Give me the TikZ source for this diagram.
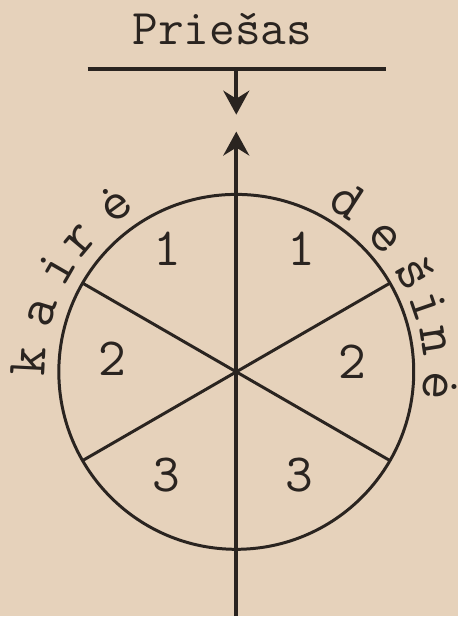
\documentclass[tikz,border=0pt]{standalone}
\usepackage{fontspec}
\usepackage{tikz}
\usetikzlibrary{arrows.meta,positioning}
\definecolor{paper}{RGB}{230,210,187}
\definecolor{ink}{RGB}{42,36,32}

\begin{document}
\begin{tikzpicture}[
  x=0.5pt, y=0.5pt,
  line/.style={draw=ink, line width=1.5pt},
  heavy/.style={draw=ink, line width=1.9pt},
  lbl/.style={font=\ttfamily\fontsize{25}{28}\selectfont, text=ink, inner sep=0pt},
  num/.style={lbl, font=\ttfamily\fontsize{27}{30}\selectfont},
  side/.style={lbl, font=\ttfamily\fontsize{28}{30}\selectfont, anchor=base},
  >={Stealth[length=12pt,width=13pt,inset=4pt]}
]

% Paper
\fill[paper] (0,0) rectangle (459,618);

% Enemy front
\node[lbl, anchor=base] (enemy) at (223,573) {Priešas};
\coordinate (frontL) at (88,549);
\coordinate (frontR) at (387,549);
\coordinate (frontM) at (237,549);
\coordinate (attack) at (237,503);
\draw[heavy] (frontL) -- (frontR);
\draw[heavy,->] (frontM) -- (attack);

% Axis and circle
\coordinate (O) at (237,245);
\coordinate (rear) at (237,0);
\coordinate (head) at (237,486);
\draw[heavy,->] (rear) -- (head);
\draw[line] (O) circle (178);

% Sector borders
\foreach \a in {30,150,210,330}
  \draw[line] (O) -- ++(\a:178);

% Sector numbers
\node[num] (left1) at (168,368) {1};
\node[num] (right1) at (302,368) {1};
\node[num] (left2) at (113,258) {2};
\node[num] (right2) at (353,255) {2};
\node[num] (left3) at (167,141) {3};
\node[num] (right3) at (300,141) {3};

% Side labels
\foreach \ch/\a [count=\i] in {k/177,a/163,i/150,r/140,ė/126}
  \path (O) ++(\a:192) node[side, rotate=\a-90] (kaire\i) {\ch};
\foreach \ch/\a [count=\i] in {d/57,e/42,š/29,i/19,n/9,ė/-4}
  \path (O) ++(\a:188) node[side, rotate=\a-90] (desine\i) {\ch};

\end{tikzpicture}
\end{document}
